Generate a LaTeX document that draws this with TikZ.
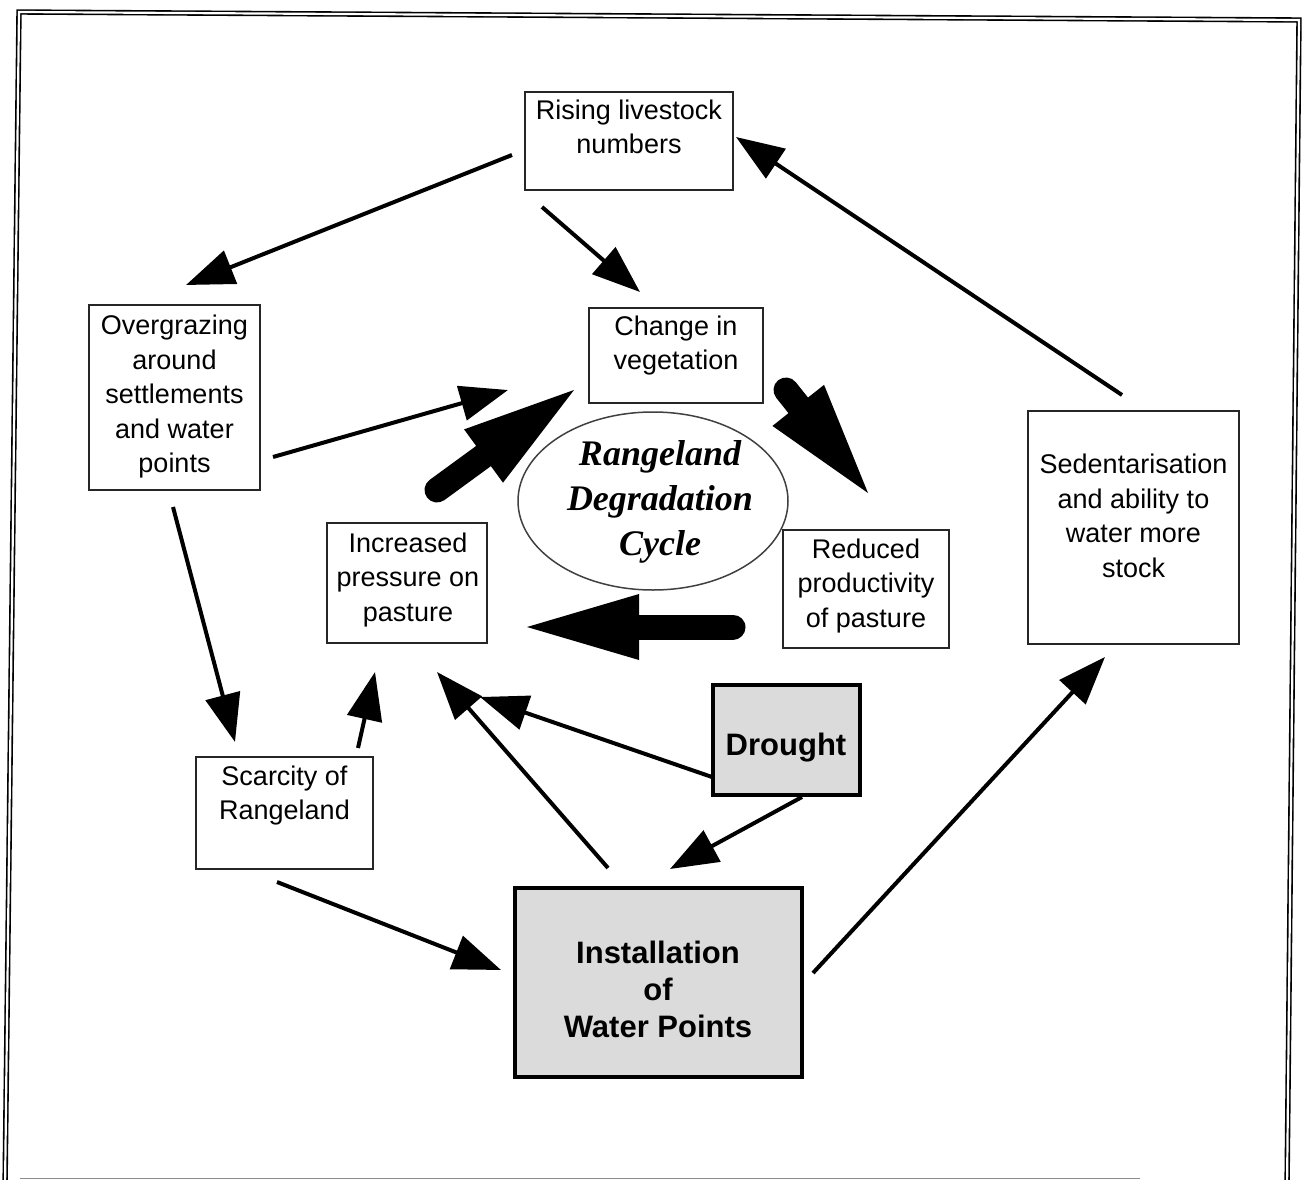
\documentclass[tikz,border=0pt]{standalone}
\usepackage{fontspec}
\setmainfont{Liberation Sans}
\newfontfamily\cyclefont{Liberation Serif}
\usetikzlibrary{arrows.meta,calc,shapes.geometric}

% heavy black arrow: round-capped shaft plus a long slender head
\newcommand\fatarrow[2]{%
  \draw[line width=25pt, line cap=round] (#1) -- ($(#2)!105pt!(#1)$);
  \fill ($(#2)!112pt!(#1)!33pt!90:(#2)$) -- (#2) --
        ($(#2)!112pt!(#1)!33pt!-90:(#2)$) -- cycle;}

\tikzset{
  box/.style={draw=black!85, line width=1.8pt, inner sep=0pt},
  heavybox/.style={draw=black, line width=4.5pt, fill=black!14, inner sep=0pt},
  txt/.style={align=center, inner sep=0pt, font=\fontsize{27}{34.5}\selectfont},
  boldtxt/.style={align=center, inner sep=0pt, font=\fontsize{31}{37}\selectfont\bfseries},
  cycletxt/.style={align=center, inner sep=0pt,
    font=\cyclefont\fontsize{36}{45}\selectfont\bfseries\itshape},
  arr/.style={line width=4pt, -{Triangle[length=48pt,width=35pt]}},
  frame/.style={line width=1.6pt, double, double distance=2.2pt},
}

\begin{document}
\begin{tikzpicture}[x=1pt,y=-1pt]
\useasboundingbox (0,0) rectangle (1304,1180);
\clip (0,0) rectangle (1304,1180);

% outer double frame
\draw[frame] (5,1190) -- (19,12) -- (1299,20) -- (1287,1190);
\draw[black!45, line width=1.4pt] (20,1178.5) -- (1140,1178.5);

% boxes
\node[box, minimum width=208pt, minimum height=98pt]  (rise)    at (629,141)     {};
\node[box, minimum width=171pt, minimum height=185pt] (over)    at (174.5,397.5) {};
\node[box, minimum width=174pt, minimum height=95pt]  (change)  at (676,355.5)   {};
\node[box, minimum width=160pt, minimum height=120pt] (incr)    at (407,583)     {};
\node[box, minimum width=166pt, minimum height=118pt] (reduced) at (866,589)     {};
\node[box, minimum width=211pt, minimum height=233pt] (sed)     at (1133.5,527.5){};
\node[box, minimum width=177pt, minimum height=112pt] (scar)    at (284.5,813)   {};
\node[heavybox, minimum width=147pt, minimum height=110pt] (drought) at (786.5,740) {};
\node[heavybox, minimum width=287pt, minimum height=189pt] (inst)    at (658.5,982.5) {};
\node[draw=black!75, line width=1.5pt, ellipse, minimum width=270pt,
      minimum height=178pt] (cyc) at (653,501) {};

% box texts
\node[txt] (rise-t)    at (629,129.5)   {\strut Rising livestock\\numbers\strut};
\node[txt] (over-t)    at (174.5,397)   {\strut Overgrazing\\around\\settlements\\and water\\points\strut};
\node[txt] (change-t)  at (676,345.5)   {\strut Change in\\vegetation\strut};
\node[txt] (incr-t)    at (408,580)     {\strut Increased\\pressure on\\pasture\strut};
\node[txt] (reduced-t) at (866,586)     {\strut Reduced\\productivity\\of pasture\strut};
\node[txt] (sed-t)     at (1133.5,518.5){\strut Sedentarisation\\and ability to\\water more\\stock\strut};
\node[txt] (scar-t)    at (284.5,795.5) {\strut Scarcity of\\Rangeland\strut};
\node[boldtxt, anchor=base] (drought-t) at (786,755) {Drought};
\node[boldtxt] (inst-t) at (658,992.6) {\strut Installation\\of\\Water Points\strut};
\node[cycletxt] (cyc-t) at (660,501) {\strut Rangeland\\Degradation\\Cycle\strut};

% connectors
\draw[arr] ([shift={(-117,14)}]rise.center)   -- ([shift={(11.5,-112.5)}]over.center);
\draw[arr] ([shift={(-87,66)}]rise.center)    -- ([shift={(-36,-63.5)}]change.center);
\draw[arr] ([shift={(98.5,59.5)}]over.center) -- ([shift={(-168,34.5)}]change.center);
\draw[arr] ([shift={(-1.5,109.5)}]over.center)-- ([shift={(-49.5,-71)}]scar.center);
\draw[arr] ([shift={(73.5,-65)}]scar.center)  -- ([shift={(-32,89)}]incr.center);
\draw[arr] ([shift={(-7.5,69)}]scar.center)   -- ([shift={(-157.5,-12.5)}]inst.center);
\draw[arr] ([shift={(-50.5,-114.5)}]inst.center) -- ([shift={(30,89)}]incr.center);
\draw[arr] ([shift={(-74.5,37)}]drought.center)  -- ([shift={(73,114)}]incr.center);
\draw[arr] ([shift={(15.5,57)}]drought.center)   -- ([shift={(11.5,-113.5)}]inst.center);
\draw[arr] ([shift={(154.5,-9.5)}]inst.center)   -- ([shift={(-28.5,129.5)}]sed.center);
\draw[arr] ([shift={(-11.5,-132.5)}]sed.center)  -- ([shift={(107,-4)}]rise.center);

% heavy arrows of the degradation cycle
\coordinate (ca-tail) at (437,490);  \coordinate (ca-tip) at (574,390);
\coordinate (cb-tail) at (786,390);  \coordinate (cb-tip) at (868,493);
\coordinate (cc-tail) at (733,627);  \coordinate (cc-tip) at (527,627);
\fatarrow{ca-tail}{ca-tip}
\fatarrow{cb-tail}{cb-tip}
\fatarrow{cc-tail}{cc-tip}
\end{tikzpicture}
\end{document}
